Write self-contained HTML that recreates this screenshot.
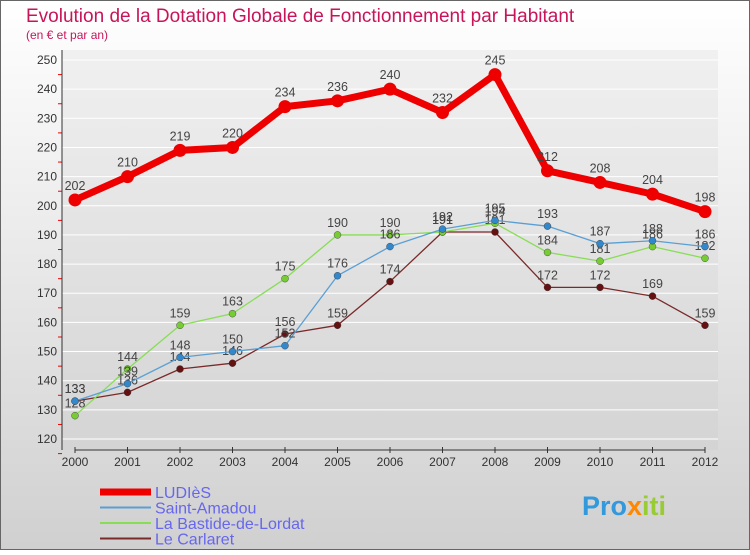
<!DOCTYPE html>
<html><head><meta charset="utf-8">
<style>
body{margin:0;width:750px;height:550px;overflow:hidden;font-family:"Liberation Sans",sans-serif;}
svg text{font-family:"Liberation Sans",sans-serif;}
</style></head>
<body>
<svg id="c" width="750" height="550" xmlns="http://www.w3.org/2000/svg">
<defs>
<linearGradient id="bg" x1="0" y1="0" x2="0" y2="1">
<stop offset="0" stop-color="#ffffff"/><stop offset="1" stop-color="#d0d0d0"/>
</linearGradient>
<linearGradient id="pbg" x1="0" y1="0" x2="0" y2="1">
<stop offset="0" stop-color="#f0f0f0"/><stop offset="1" stop-color="#d4d4d4"/>
</linearGradient>
</defs>
<rect x="0.5" y="0.5" width="749" height="549" fill="url(#bg)" stroke="#666"/>
<rect x="62" y="50" width="656" height="400" fill="url(#pbg)"/>
<text x="26" y="22" font-size="19" fill="#c8145a">Evolution de la Dotation Globale de Fonctionnement par Habitant</text>
<text x="26" y="39" font-size="12" fill="#c8145a">(en € et par an)</text>
<g id="grid"></g><g id="axes"></g><g id="series"></g><g id="legend"></g>
<text x="582" y="515" font-size="27" font-weight="bold" fill="#3399dd">Pro<tspan fill="#ff8800">x</tspan><tspan fill="#99cc33">iti</tspan></text>
</svg>
<script>
const years=["2000","2001","2002","2003","2004","2005","2006","2007","2008","2009","2010","2011","2012"];
const ludies=[202,210,219,220,234,236,240,232,245,212,208,204,198];
const saintAmadou=[133,139,148,150,152,176,186,192,195,193,187,188,186];
const bastide=[128,144,159,163,175,190,190,191,194,184,181,186,182];
const carlaret=[133,136,144,146,156,159,174,191,191,172,172,169,159];
const yTicks=[120,130,140,150,160,170,180,190,200,210,220,230,240,250];
const NS="http://www.w3.org/2000/svg";
const X=i=>75+i*52.5;
const Y=v=>439-(v-120)*(379/130);
function mk(t,a,p){const e=document.createElementNS(NS,t);for(const k in a)e.setAttribute(k,a[k]);p.appendChild(e);return e;}
const grid=document.getElementById('grid'),axes=document.getElementById('axes');
yTicks.forEach(v=>{
 const l=mk('line',{x1:62,x2:718,y1:Y(v),y2:Y(v),stroke:'#ffffff','stroke-width':1},grid);
 
 
 const t=mk('text',{x:57,y:Y(v)+4,'font-size':12,'text-anchor':'end',fill:'#333'},axes);
 t.textContent=v;
 
 
 const tk=mk('line',{x1:58,x2:62,y1:Y(v)+14.6,y2:Y(v)+14.6,stroke:'#e00'},axes);
 
 
});
const ya=mk('line',{x1:62,x2:62,y1:50,y2:450,stroke:'#333'},axes);


const xa=mk('line',{x1:75,x2:705,y1:450,y2:450,stroke:'#333'},axes);


years.forEach((y,i)=>{
 const t=mk('text',{x:X(i),y:466,'font-size':12,'text-anchor':'middle',fill:'#333'},axes);
 t.textContent=y;
 
 
 const tk=mk('line',{x1:X(i),x2:X(i),y1:447,y2:453,stroke:'#333'},axes);
 
 
});
const S=[
 {name:'LUDIèS',d:ludies,c:'#ee0000',w:7,r:6.5,fill:'#ee0000',key:'ludies'},
 {name:'Saint-Amadou',d:saintAmadou,c:'#5a9fd4',w:1.3,r:3.5,fill:'#3388cc',key:'saint-amadou'},
 {name:'La Bastide-de-Lordat',d:bastide,c:'#88dd55',w:1.3,r:3.5,fill:'#77cc33',key:'la-bastide-de-lordat'},
 {name:'Le Carlaret',d:carlaret,c:'#7a2a2a',w:1.3,r:3.5,fill:'#661111',key:'le-carlaret'}];
const sg=document.getElementById('series');
S.slice().reverse().forEach(s=>{
 const g=mk('g',{},sg);
 
 
 const p=mk('polyline',{points:s.d.map((v,i)=>X(i)+','+Y(v)).join(' '),fill:'none',stroke:s.c,'stroke-width':s.w,'stroke-linejoin':'round'},g);
 
 
 s.d.forEach((v,i)=>{
  const c=mk('circle',{cx:X(i),cy:Y(v),r:s.r,fill:s.fill,stroke:s.w>2?'none':'#333','stroke-width':0.4},g);
  
  
  const t=mk('text',{x:X(i),y:Y(v)-(s.w>2?10:8),'font-size':12.5,'text-anchor':'middle',fill:'#444'},g);
  t.textContent=v;
  
  
 });
});
const lg=document.getElementById('legend');
S.forEach((s,i)=>{
 const y=492+i*15.5;
 const l=mk('line',{x1:100,x2:151,y1:y,y2:y,stroke:s.c,'stroke-width':s.w>2?7:2},lg);
 
 
 const t=mk('text',{x:155,y:y+6,'font-size':16,fill:'#6666ee'},lg);
 t.textContent=s.name;
 
 
});
</script>
</body></html>
